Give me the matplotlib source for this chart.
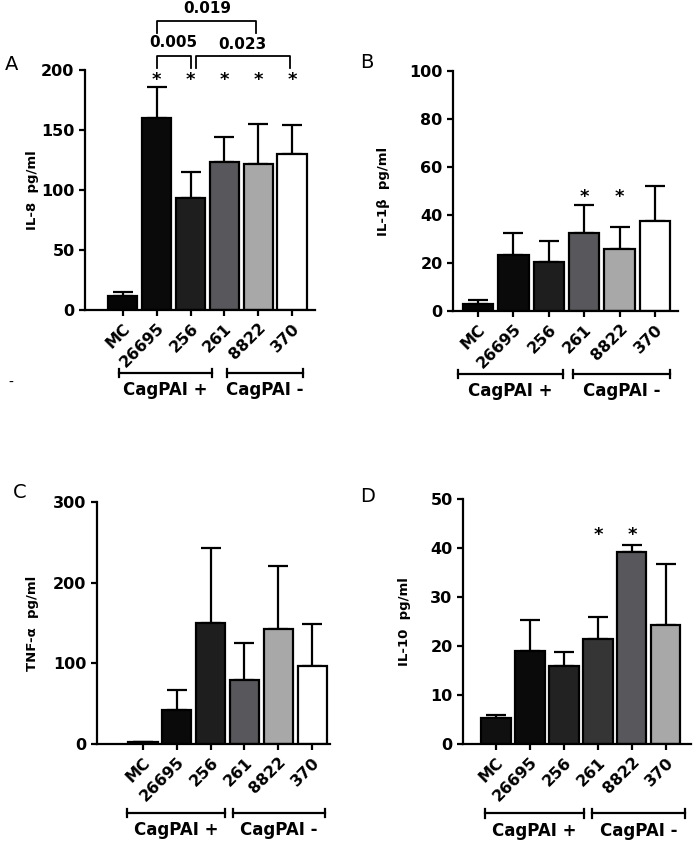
import matplotlib
matplotlib.use('Agg')
import matplotlib.pyplot as plt
import matplotlib.transforms as mtrans

plt.rcParams['font.family'] = ['DejaVu Sans']

strains = ['MC', '26695', '256', '261', '8822', '370']

# IL-8 (panel A)
il8 = [12, 160, 93, 123, 122, 130]
il8_err = [3, 26, 22, 21, 33, 24]
# IL-1b (panel B)
il1b = [3, 23.5, 20.5, 32.5, 26, 37.5]
il1b_err = [1.7, 9, 8.5, 11.5, 9, 14.5]
# TNF-a (panel C)
tnf = [2, 42, 150, 79, 143, 97]
tnf_err = [0.5, 25, 93, 46, 78, 52]
# IL-10 (panel D)
il10 = [5.3, 19, 16, 21.4, 39.2, 24.3]
il10_err = [0.7, 6.3, 2.7, 4.6, 1.5, 12.5]

greys_abc = ['#050505', '#0a0a0a', '#1e1e1e', '#58585c', '#a8a8a8', '#ffffff']
greys_d = ['#101010', '#0a0a0a', '#222222', '#353535', '#58585c', '#a8a8a8']

fig = plt.figure(figsize=(6.96, 8.47), dpi=100)
W, H = 696, 847


def make_ax(left, top, right, bottom):
  return fig.add_axes([left / W, 1 - bottom / H, (right - left) / W, (bottom - top) / H])


def draw_panel(ax, vals, errs, colors, ymax, step, ylabel, xlim, label_x, groups, bracket_y):
  x = list(range(len(strains)))
  ax.bar(x, vals, width=0.86, color=colors, edgecolor='black', linewidth=1.6, zorder=2)
  ax.errorbar(x, vals, yerr=[[0] * len(errs), errs], fmt='none', ecolor='black',
              elinewidth=1.6, capsize=7, capthick=1.6, zorder=1)
  ax.set_ylim(0, ymax)
  ax.set_xlim(*xlim)
  ax.set_yticks(range(0, ymax + 1, step))
  ax.set_xticks(x)
  ax.set_xticklabels(strains, rotation=45, ha='right', va='top', rotation_mode='anchor')
  for s in ['top', 'right']:
    ax.spines[s].set_visible(False)
  for s in ['left', 'bottom']:
    ax.spines[s].set_linewidth(1.6)
  ax.tick_params(axis='both', direction='out', length=4, width=1.6, labelsize=11.5)
  for t in ax.get_xticklabels() + ax.get_yticklabels():
    t.set_fontweight('bold')
  ax.set_ylabel(ylabel, fontsize=9.5, fontweight='bold')
  ax.yaxis.set_label_coords(label_x, 0.5)
  trans = mtrans.blended_transform_factory(ax.transData, ax.transAxes)
  for (x0, x1, name) in groups:
    ax.plot([x0, x1], [bracket_y, bracket_y], color='black', lw=1.6, transform=trans, clip_on=False)
    for xx in (x0, x1):
      ax.plot([xx, xx], [bracket_y - 0.018, bracket_y + 0.018], color='black', lw=1.6,
              transform=trans, clip_on=False)
    ax.text((x0 + x1) / 2, bracket_y - 0.035, name, transform=trans, ha='center', va='top',
            fontsize=12, fontweight='bold')


axA = make_ax(85, 70, 315, 310)
draw_panel(axA, il8, il8_err, greys_abc, 200, 50, 'IL-8  pg/ml', (-1.12, 5.68), -0.2,
           [(-0.12, 2.63, 'CagPAI +'), (3.08, 5.33, 'CagPAI -')], -0.2625)
for i in [1, 2, 3, 4, 5]:
  axA.text(i, 192, '*', ha='center', va='center', fontsize=13, fontweight='bold')


# significance brackets in A
def sig_bracket(ax, x0, x1, y, drop, txt, tx, ty):
  ax.plot([x0, x0, x1, x1], [y - drop, y, y, y - drop], color='black', lw=1.3, clip_on=False)
  ax.text(tx, ty, txt, ha='center', va='center', fontsize=11, fontweight='bold')


sig_bracket(axA, 1.0, 2.0, 212, 10, '0.005', 1.5, 223)
sig_bracket(axA, 2.15, 4.93, 212, 10, '0.023', 3.53, 221)
sig_bracket(axA, 1.0, 3.95, 241, 10, '0.019', 2.5, 251)
fig.text(8 / W, 1 - 383 / H, '-', fontsize=10, ha='left', va='center')

axB = make_ax(453, 71, 678, 311)
draw_panel(axB, il1b, il1b_err, greys_abc, 100, 20, 'IL-1β  pg/ml', (-0.71, 5.65), -0.28,
           [(-0.56, 2.4, 'CagPAI +'), (2.68, 5.42, 'CagPAI -')], -0.2625)
for i in [3, 4]:
  axB.text(i, 47.5, '*', ha='center', va='center', fontsize=13, fontweight='bold')

axC = make_ax(97, 502, 330, 744)
draw_panel(axC, tnf, tnf_err, greys_abc, 300, 100, 'TNF-α  pg/ml', (-1.36, 5.53), -0.25,
           [(-0.47, 2.43, 'CagPAI +'), (2.66, 5.38, 'CagPAI -')], -0.285)

axD = make_ax(463, 499, 691, 744)
draw_panel(axD, il10, il10_err, greys_d, 50, 10, 'IL-10  pg/ml', (-0.97, 5.74), -0.23,
           [(-0.32, 2.59, 'CagPAI +'), (2.82, 5.56, 'CagPAI -')], -0.282)
for i in [3, 4]:
  axD.text(i, 42.6, '*', ha='center', va='center', fontsize=13, fontweight='bold')

for lbl, px, py in [('A', 5, 64), ('B', 360, 62), ('C', 13, 492), ('D', 360, 496)]:
  fig.text(px / W, 1 - py / H, lbl, fontsize=14, ha='left', va='center')

fig.savefig('out.png', dpi=100)
